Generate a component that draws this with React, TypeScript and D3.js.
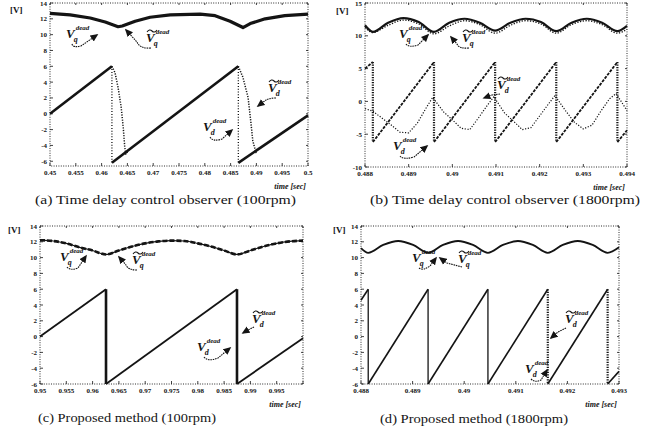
import React from 'react';
import * as d3 from 'd3';

// ---------- (a) time delay control observer, 100rpm ----------
const aXTicks = [0.45, 0.455, 0.46, 0.465, 0.47, 0.475, 0.48, 0.485, 0.49, 0.495, 0.5];
const aXLabels = ['0.45', '0.455', '0.46', '0.465', '0.47', '0.475', '0.48', '0.485', '0.49', '0.495', '0.5'];
const evenYTicks = [14, 12, 10, 8, 6, 4, 2, 0, -2, -4, -6];
const evenYLabels = ['14', '12', '10', '8', '6', '4', '2', '0', '-2', '-4', '-6'];

const aUpperT = [0.45, 0.4539, 0.4578, 0.4607, 0.4632, 0.464, 0.4665, 0.4694, 0.4733, 0.4791, 0.482, 0.4849, 0.4874, 0.4888, 0.4917, 0.4955, 0.5];
const aUpperV = [12.7, 12.5, 12.1, 11.6, 11.0, 11.1, 11.7, 12.2, 12.5, 12.6, 12.4, 11.7, 10.9, 11.4, 12.0, 12.4, 12.6];
const aSawT = [0.45, 0.462, 0.462, 0.4865, 0.4865, 0.5];
const aSawV = [0, 6, -6.2, 6, -6.2, -0.2];
const aHat1T = [0.462, 0.4626, 0.4632, 0.4638, 0.4642, 0.4645, 0.4647, 0.4652];
const aHat1V = [6, 5.2, 3.3, 0.8, -1.8, -4.3, -5.1, -4.6];
const aHat2T = [0.4865, 0.4874, 0.4884, 0.4889, 0.4893, 0.4899, 0.4903];
const aHat2V = [6, 4.6, 2.0, -0.9, -3.4, -4.9, -4.3];

// ---------- (b) time delay control observer, 1800rpm ----------
const bXTicks = [0.488, 0.489, 0.49, 0.491, 0.492, 0.493, 0.494];
const bXLabels = ['0.488', '0.489', '0.49', '0.491', '0.492', '0.493', '0.494'];
const bYTicks = [15, 10, 5, 0, -5, -10];
const bYLabels = ['15', '10', '5', '0', '-5', '-10'];

const bUpperT = [0.488, 0.48818, 0.48853, 0.48888, 0.48923, 0.48958, 0.48993, 0.49028, 0.49063, 0.49098, 0.49133, 0.49168, 0.49203, 0.49238, 0.49273, 0.49308, 0.49343, 0.49378, 0.494];
const bUpperV = [11.6, 10.6, 12.0, 12.7, 12.1, 10.6, 12.0, 12.6, 12.0, 10.8, 12.0, 12.6, 12.1, 10.7, 12.0, 12.6, 12.0, 10.7, 11.5];
const bHatUpperV = [11.3, 10.5, 11.6, 12.4, 11.8, 10.3, 11.5, 12.3, 11.7, 10.4, 11.6, 12.3, 11.8, 10.4, 11.7, 12.3, 11.7, 10.4, 11.0];
const bSawT = [0.488, 0.48818, 0.48818, 0.48958, 0.48958, 0.49098, 0.49098, 0.49238, 0.49238, 0.49378, 0.49378, 0.494];
const bSawV = [5.0, 6.0, -6.2, 6.0, -6.2, 6.0, -6.2, 6.0, -6.2, 6.0, -6.2, -4.4];
const bHatT = [0.488, 0.48818, 0.4884, 0.4886, 0.4888, 0.489, 0.4892, 0.4894, 0.48955, 0.4898, 0.49, 0.4902, 0.4904, 0.4906, 0.4908, 0.49095, 0.4912, 0.4914, 0.4916, 0.4918, 0.492, 0.4922, 0.49235, 0.4926, 0.4928, 0.493, 0.4932, 0.4934, 0.4936, 0.49375, 0.494];
const bHatV = [-1.1, -1.5, -2.6, -3.6, -4.7, -4.8, -3.3, -1.0, 0.6, -1.6, -2.8, -4.1, -4.3, -2.5, -0.6, 0.7, -1.8, -3.0, -4.3, -4.0, -2.2, -0.4, 0.9, -1.5, -3.2, -4.2, -3.6, -1.5, 0.4, 1.2, -1.4];

// ---------- (c) proposed method, 100rpm ----------
const cXTicks = [0.95, 0.955, 0.96, 0.965, 0.97, 0.975, 0.98, 0.985, 0.99, 0.995, 1.0];
const cXLabels = ['0.95', '0.955', '0.96', '0.965', '0.97', '0.975', '0.98', '0.985', '0.99', '0.995', ''];
const cUpperT = [0.95, 0.9525, 0.955, 0.9575, 0.96, 0.96255, 0.965, 0.9675, 0.97, 0.9725, 0.975, 0.9775, 0.98, 0.9825, 0.985, 0.98745, 0.99, 0.9925, 0.995, 0.9975, 1.0];
const cUpperV = [12.2, 12.1, 11.8, 11.3, 10.9, 10.4, 10.9, 11.4, 11.8, 12.05, 12.15, 12.1, 11.8, 11.4, 10.9, 10.4, 10.9, 11.4, 11.8, 12.05, 12.15];
const cSawT = [0.95, 0.96255, 0.96255, 0.98745, 0.98745, 1.0];
const cSawV = [0, 6, -6, 6, -6, -0.2];

// ---------- (d) proposed method, 1800rpm ----------
const dXTicks = [0.488, 0.489, 0.49, 0.491, 0.492, 0.493];
const dXLabels = ['0.488', '0.489', '0.49', '0.491', '0.492', '0.493'];
const dUpperT = [0.488, 0.48814, 0.48843, 0.48872, 0.48901, 0.4893, 0.48959, 0.48988, 0.49017, 0.49046, 0.49075, 0.49104, 0.49133, 0.49162, 0.49191, 0.4922, 0.49249, 0.49278, 0.493];
const dUpperV = [11.2, 10.6, 11.6, 12.1, 11.6, 10.6, 11.6, 12.1, 11.6, 10.6, 11.6, 12.1, 11.6, 10.6, 11.6, 12.1, 11.6, 10.6, 11.3];
const dSawT = [0.488, 0.48814, 0.48814, 0.4893, 0.4893, 0.49046, 0.49046, 0.49162, 0.49162, 0.49278, 0.49278, 0.493];
const dSawV = [4.6, 6.0, -6.0, 6.0, -6.0, 6.0, -6.0, 6.0, -6.0, 6.0, -6.0, -4.4];

const INK = '#141414';
const SERIF = "'Liberation Serif', 'DejaVu Serif', serif";

const solidDrop = { width: 1.3 };
const dotDrop = { width: 2.2, dash: '1.2 1.3' };

const panels = [
  {
    key: 'a', xDomain: [0.45, 0.5], xRange: [50, 308], yDomain: [-6.6, 14], yRange: [166, 3],
    xTicks: aXTicks, xLabels: aXLabels, yTicks: evenYTicks, yLabels: evenYLabels,
    series: [
      { t: aUpperT, v: aUpperV, width: 3.2 },
      { t: aSawT, v: aSawV, width: 2.6, drops: [{ width: 1.3, dash: '1 1.8' }, { width: 1.3, dash: '1 1.8' }] },
      { t: aHat1T, v: aHat1V, width: 1.5, dash: '1.2 1.4' },
      { t: aHat2T, v: aHat2V, width: 1.5, dash: '1.2 1.4' },
    ],
  },
  {
    key: 'b', xDomain: [0.488, 0.494], xRange: [365, 627], yDomain: [-10, 15], yRange: [167, 3],
    xTicks: bXTicks, xLabels: bXLabels, yTicks: bYTicks, yLabels: bYLabels,
    series: [
      { t: bUpperT, v: bHatUpperV, width: 1.3, dash: '1.3 1.5', curve: d3.curveMonotoneX },
      { t: bUpperT, v: bUpperV, width: 2.2, curve: d3.curveMonotoneX },
      { t: bHatT, v: bHatV, width: 1.2, dash: '1.2 1.6' },
      { t: bSawT, v: bSawV, width: 1.8, dash: '3 1.2', drops: [dotDrop, dotDrop, dotDrop, dotDrop, dotDrop] },
    ],
  },
  {
    key: 'c', xDomain: [0.95, 1.0], xRange: [40, 303], yDomain: [-6, 14], yRange: [384, 226],
    xTicks: cXTicks, xLabels: cXLabels, yTicks: evenYTicks, yLabels: evenYLabels,
    series: [
      { t: cUpperT, v: cUpperV, width: 1.2, curve: d3.curveMonotoneX },
      { t: cUpperT, v: cUpperV, width: 2.6, dash: '5 2', curve: d3.curveMonotoneX },
      { t: cSawT, v: cSawV, width: 1.8, drops: [{ width: 2.6 }, { width: 2.6 }] },
    ],
  },
  {
    key: 'd', xDomain: [0.488, 0.493], xRange: [361, 619], yDomain: [-6, 14], yRange: [384, 226],
    xTicks: dXTicks, xLabels: dXLabels, yTicks: evenYTicks, yLabels: evenYLabels,
    series: [
      { t: dUpperT, v: dUpperV, width: 1.8, curve: d3.curveMonotoneX },
      { t: dSawT, v: dSawV, width: 1.6, drops: [solidDrop, solidDrop, solidDrop, dotDrop, dotDrop] },
    ],
  },
];

// split a series at vertical jumps (equal consecutive times)
function splitRuns(t: number[], v: number[]) {
  const runs: [number, number][][] = [];
  const drops: [number, number, number][] = [];
  let cur: [number, number][] = [[t[0], v[0]]];
  for (let i = 1; i < t.length; i++) {
    if (t[i] === t[i - 1]) {
      runs.push(cur);
      drops.push([t[i], v[i - 1], v[i]]);
      cur = [[t[i], v[i]]];
    } else cur.push([t[i], v[i]]);
  }
  runs.push(cur);
  return { runs, drops };
}

const Panel = ({ p }: any) => {
  const x = d3.scaleLinear().domain(p.xDomain).range(p.xRange);
  const y = d3.scaleLinear().domain(p.yDomain).range(p.yRange);
  const [x0, x1] = p.xRange;
  const [yb, yt] = p.yRange;

  return (
    <g>
      <rect x={x0} y={yt} width={x1 - x0} height={yb - yt} fill="none" stroke={INK} strokeWidth={0.9} strokeDasharray="1 1.4" />
      {p.xTicks.map((t: number, i: number) => (
        <g key={'x' + i}>
          <line x1={x(t)} x2={x(t)} y1={yb} y2={yb - 3} stroke={INK} strokeWidth={0.8} />
          <line x1={x(t)} x2={x(t)} y1={yt} y2={yt + 2} stroke={INK} strokeWidth={0.8} />
          <text x={x(t)} y={yb + 9} fontSize={7} fontWeight="bold" textAnchor="middle" fontFamily={SERIF} fill={INK}>{p.xLabels[i]}</text>
        </g>
      ))}
      {p.yTicks.map((v: number, i: number) => (
        <g key={'y' + i}>
          <line x1={x0} x2={x0 + 3} y1={y(v)} y2={y(v)} stroke={INK} strokeWidth={0.8} />
          <line x1={x1} x2={x1 - 2} y1={y(v)} y2={y(v)} stroke={INK} strokeWidth={0.8} />
          <text x={x0 - 3} y={y(v) + 2.5} fontSize={7} fontWeight="bold" textAnchor="end" fontFamily={SERIF} fill={INK}>{p.yLabels[i]}</text>
        </g>
      ))}
      {p.series.map((s: any, si: number) => {
        const { runs, drops } = splitRuns(s.t, s.v);
        const line = d3.line<[number, number]>()
          .x(d => x(d[0]))
          .y(d => y(d[1]))
          .curve(s.curve || d3.curveLinear);
        return (
          <g key={'s' + si}>
            {runs.map((r, ri) => (
              <path key={ri} d={line(r) || ''} fill="none" stroke={INK} strokeWidth={s.width} strokeDasharray={s.dash} strokeLinejoin="round" />
            ))}
            {drops.map((d, di) => {
              const st = (s.drops && s.drops[di]) || { width: s.width };
              return (
                <line key={'d' + di} x1={x(d[0])} x2={x(d[0])} y1={y(d[1])} y2={y(d[2])} stroke={INK} strokeWidth={st.width} strokeDasharray={st.dash} />
              );
            })}
          </g>
        );
      })}
      <text x={x1 - 2} y={yb + 23} fontSize={8} fontWeight="bold" fontStyle="italic" textAnchor="end" fontFamily={SERIF} fill={INK}>time [sec]</text>
    </g>
  );
};

// V^dead label (one text element: V, subscript, superscript) with optional hat
const VLabel = ({ x, y, hat, sub }: any) => (
  <g fill={INK}>
    <text x={x} y={y} fontSize={13} fontFamily={SERIF} fontStyle="italic" fontWeight="bold">
      V
      <tspan dx={-1} dy={4} fontSize={8}>{sub}</tspan>
      <tspan dx={-2} dy={-12} fontSize={7}>dead</tspan>
    </text>
    {hat && <path d={`M${x + 1},${y - 10} q2.5,-3.5 5,-1 q2.5,2.5 5,-1`} stroke={INK} fill="none" strokeWidth={1.1} />}
  </g>
);

const Arrow = ({ d }: any) => (
  <path d={d} fill="none" stroke={INK} strokeWidth={1.1} strokeDasharray="1.6 0.8" markerEnd="url(#ah)" />
);

const annotations = [
  // (a)
  { x: 66, y: 38, sub: 'q', hat: false, arrow: 'M72,44 Q73,48 81,46 L97,35' },
  { x: 146, y: 42, sub: 'q', hat: true, arrow: 'M151,48 Q140,49 137,42 L126,30' },
  { x: 268, y: 92, sub: 'd', hat: true, arrow: 'M276,98 Q270,98 266,100 L258,106' },
  { x: 203, y: 131, sub: 'd', hat: false, arrow: 'M210,137 Q213,142 222,139 L232,130' },
  // (b)
  { x: 399, y: 38, sub: 'q', hat: false, arrow: 'M406,44 Q409,48 418,45 L428,35' },
  { x: 462, y: 42, sub: 'q', hat: true, arrow: 'M469,48 Q459,49 457,44 L451,37' },
  { x: 497, y: 89, sub: 'd', hat: true, arrow: 'M500,94 L492,95 L484,98' },
  { x: 393, y: 150, sub: 'd', hat: false, arrow: 'M400,156 Q403,160 414,157 L427,146' },
  // (c)
  { x: 60, y: 261, sub: 'q', hat: false, arrow: 'M67,267 Q70,271 78,268 L86,256' },
  { x: 132, y: 264, sub: 'q', hat: true, arrow: 'M137,270 Q128,270 126,265 L119,257' },
  { x: 252, y: 323, sub: 'd', hat: true, arrow: 'M254,327 L248,330 L243,333' },
  { x: 197, y: 351, sub: 'd', hat: false, arrow: 'M204,357 Q208,362 218,358 L230,348' },
  // (d)
  { x: 412, y: 262, sub: 'q', hat: false, arrow: 'M419,268 Q423,271 430,266 L436,258' },
  { x: 458, y: 263, sub: 'q', hat: true, arrow: 'M462,267 L447,263 L440,258' },
  { x: 565, y: 323, sub: 'd', hat: true, arrow: 'M566,328 L558,332 L551,338' },
  { x: 525, y: 373, sub: 'd', hat: false, arrow: 'M531,379 Q535,383 541,380 L547,370' },
];

const units = [
  { x: 10, y: 13 }, { x: 336, y: 14 }, { x: 8, y: 233 }, { x: 333, y: 233 },
];

const captions = [
  { text: '(a) Time delay control observer (100rpm)', x: 35, y: 204, w: 261 },
  { text: '(b) Time delay control observer (1800rpm)', x: 370, y: 204, w: 270 },
  { text: '(c) Proposed method (100rpm)', x: 38, y: 422, w: 178 },
  { text: '(d) Proposed method (1800rpm)', x: 380, y: 423, w: 188 },
];

const App = () => {
  return (
    <svg width={665} height={439} style={{ position: 'absolute', left: 0, top: 0, background: '#fff' }}>
      <defs>
        <marker id="ah" viewBox="0 0 10 10" refX="8" refY="5" markerWidth="8" markerHeight="8" markerUnits="userSpaceOnUse" orient="auto">
          <path d="M0,0.5 L10,5 L0,9.5 z" fill={INK} />
        </marker>
      </defs>
      {panels.map(p => <Panel key={p.key} p={p} />)}
      {units.map((u, i) => (
        <text key={i} x={u.x} y={u.y} fontSize={9} fontWeight="bold" fontFamily={SERIF} fill={INK}>[V]</text>
      ))}
      {annotations.map((a, i) => (
        <g key={i}>
          <VLabel x={a.x} y={a.y} hat={a.hat} sub={a.sub} />
          <Arrow d={a.arrow} />
        </g>
      ))}
      {captions.map((c, i) => (
        <text key={i} x={c.x} y={c.y} fontSize={12.5} fontFamily={SERIF} fill={INK} textLength={c.w} lengthAdjust="spacingAndGlyphs">{c.text}</text>
      ))}
    </svg>
  );
};

export default App;
